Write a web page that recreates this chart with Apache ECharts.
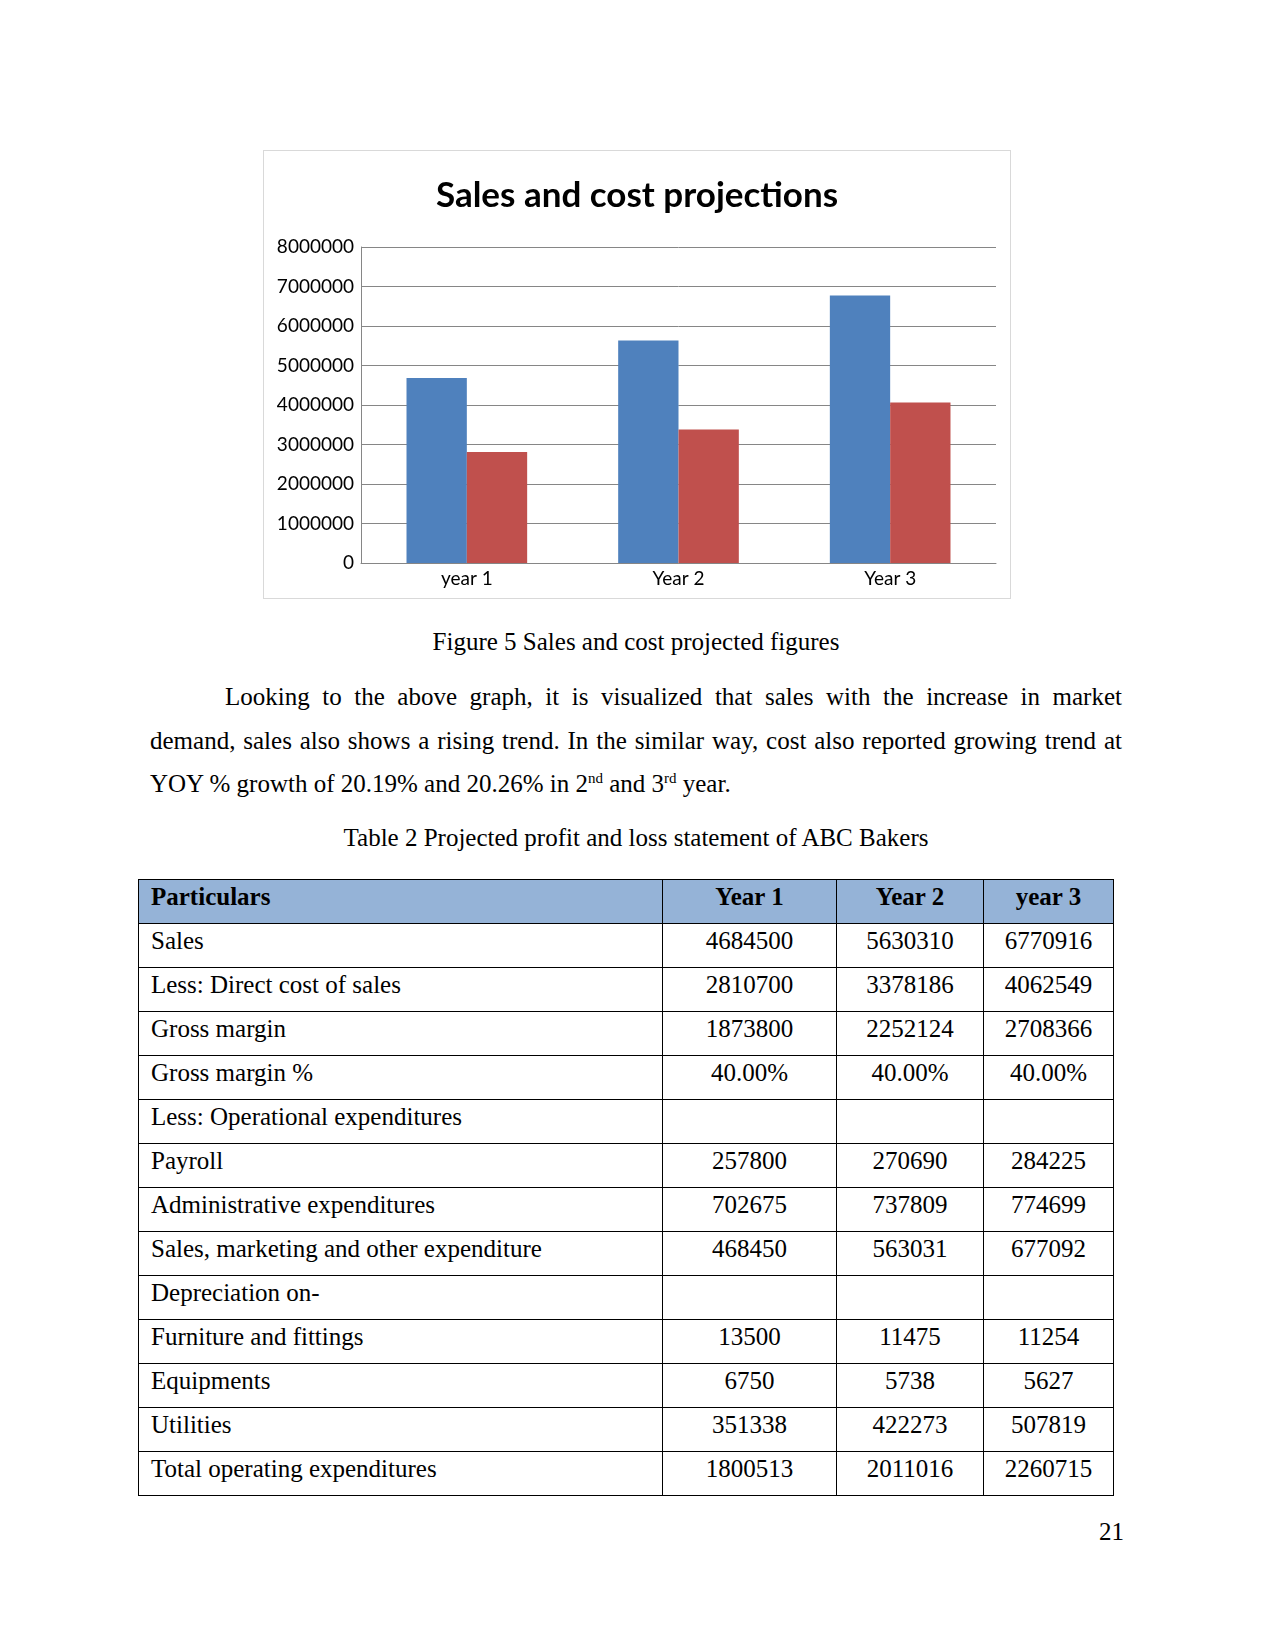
<!DOCTYPE html>
<html>
<head>
<meta charset="utf-8">
<script src="https://cdn.jsdelivr.net/npm/echarts@6/dist/echarts.min.js"></script>
<style>
  html, body { margin:0; padding:0; background:#fff; }
  body { width:1275px; height:1650px; position:relative; overflow:hidden; font-family:"Liberation Serif", "Times New Roman", serif; color:#000; }
  #chart { position:absolute; left:263px; top:150px; width:748px; height:449px; box-sizing:border-box; border:1px solid #d9d9d9; }
  .ln { position:absolute; font-size:25px; line-height:30px; white-space:nowrap; }
  .just { text-align:justify; text-align-last:justify; white-space:normal; }
  sup { font-size:15px; line-height:0; vertical-align:9px; }
  table { position:absolute; left:138px; top:879px; border-collapse:collapse; table-layout:fixed; font-size:25px; }
  td, th { border:1px solid #000; height:44px; padding:3px 12px 0 12px; box-sizing:border-box; vertical-align:top; line-height:28px; font-weight:normal; }
  th { background:#95b3d7; font-weight:bold; }
  td.n, th.n { text-align:center; padding-left:2px; padding-right:2px; }
  td.l, th.l { text-align:left; }
</style>
</head>
<body>
<div id="chart"></div>
<div class="ln" style="left:150px;width:972px;top:627px;text-align:center;">Figure 5 Sales and cost projected figures</div>
<div class="ln just" style="left:225px;width:897px;top:682px;">Looking to the above graph, it is visualized that sales with the increase in market</div>
<div class="ln just" style="left:150px;width:972px;top:726px;">demand, sales also shows a rising trend. In the similar way, cost also reported growing trend at</div>
<div class="ln" style="left:150px;top:769px;">YOY % growth of 20.19% and 20.26% in 2<sup>nd</sup> and 3<sup>rd</sup> year.</div>
<div class="ln" style="left:150px;width:972px;top:823px;text-align:center;">Table 2 Projected profit and loss statement of ABC Bakers</div>
<table id="tbl"></table>
<div class="ln" style="left:1000px;width:124px;top:1517px;text-align:right;">21</div>
<script>
// ---- chart data ----
const categories = ['year 1', 'Year 2', 'Year 3'];
const salesValues = [4684500, 5630310, 6770916];
const costValues = [2810700, 3378186, 4062549];
const yMin = 0, yMax = 8000000, yStep = 1000000;

// ---- table data ----
const tableHeader = ['Particulars', 'Year 1', 'Year 2', 'year 3'];
const rowLabels = ['Sales', 'Less: Direct cost of sales', 'Gross margin', 'Gross margin %', 'Less: Operational expenditures', 'Payroll', 'Administrative expenditures', 'Sales, marketing and other expenditure', 'Depreciation on-', 'Furniture and fittings', 'Equipments', 'Utilities', 'Total operating expenditures'];
const year1Col = ['4684500', '2810700', '1873800', '40.00%', '', '257800', '702675', '468450', '', '13500', '6750', '351338', '1800513'];
const year2Col = ['5630310', '3378186', '2252124', '40.00%', '', '270690', '737809', '563031', '', '11475', '5738', '422273', '2011016'];
const year3Col = ['6770916', '4062549', '2708366', '40.00%', '', '284225', '774699', '677092', '', '11254', '5627', '507819', '2260715'];

// build table
const colW = [524, 174, 147, 130];
const tbl = document.getElementById('tbl');
let html = '<colgroup>' + colW.map(w => '<col style="width:' + w + 'px">').join('') + '</colgroup>';
html += '<tr>' + tableHeader.map((h, i) => '<th class="' + (i ? 'n' : 'l') + '">' + h + '</th>').join('') + '</tr>';
rowLabels.forEach((lab, i) => {
  html += '<tr><td class="l">' + lab + '</td><td class="n">' + year1Col[i] + '</td><td class="n">' + year2Col[i] + '</td><td class="n">' + year3Col[i] + '</td></tr>';
});
tbl.innerHTML = html;
tbl.style.width = colW.reduce((a, b) => a + b, 0) + 'px';

// chart
const chart = echarts.init(document.getElementById('chart'), null, { renderer: 'canvas' });
chart.setOption({
  animation: false,
  backgroundColor: '#ffffff',
  title: {
    text: 'Sales and cost projections',
    left: 'center', top: 22,
    textStyle: { fontFamily: 'Lato', fontWeight: 'bold', fontSize: 35, color: '#000' }
  },
  grid: { left: 97, right: 14, top: 96, bottom: 35, containLabel: false },
  xAxis: {
    type: 'category', data: categories,
    axisLine: { lineStyle: { color: '#868686', width: 1 } },
    axisTick: { show: false },
    axisLabel: { fontFamily: 'Lato', fontSize: 19, color: '#000', margin: 6 }
  },
  yAxis: {
    type: 'value', min: yMin, max: yMax, interval: yStep,
    axisLine: { show: true, lineStyle: { color: '#868686', width: 1 } },
    axisTick: { show: false },
    splitLine: { lineStyle: { color: '#868686', width: 1 } },
    axisLabel: { fontFamily: 'Lato', fontSize: 19, color: '#000', margin: 7, formatter: v => String(v) }
  },
  series: [
    { name: 'Sales', type: 'bar', data: salesValues, itemStyle: { color: '#4f81bd' }, barGap: '0%', barCategoryGap: '43%' },
    { name: 'Cost', type: 'bar', data: costValues, itemStyle: { color: '#c0504d' }, barGap: '0%', barCategoryGap: '43%' }
  ]
});
</script>
</body>
</html>
